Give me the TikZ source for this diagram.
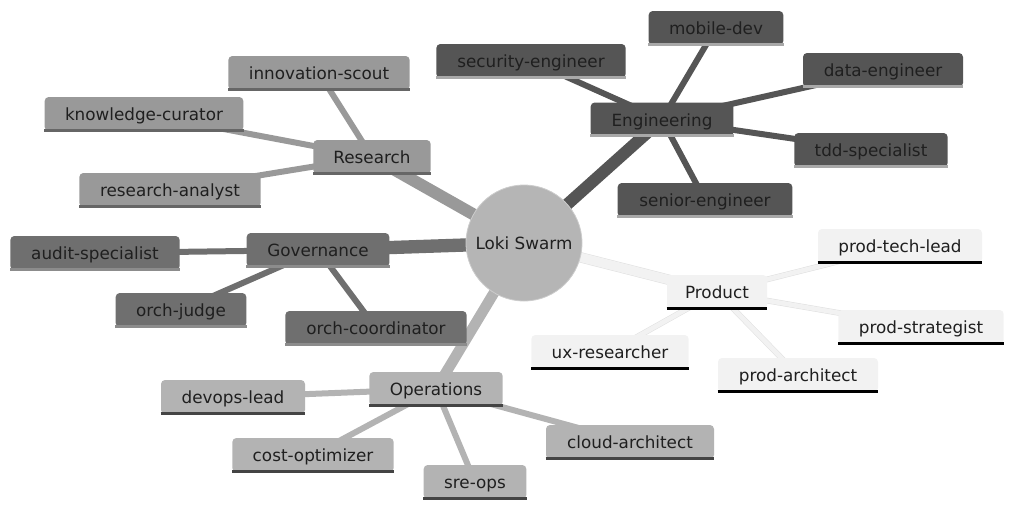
\documentclass[tikz,border=0pt]{standalone}
\usepackage{fontspec}
\setmainfont{DejaVu Sans}
\definecolor{engc}{HTML}{555555}
\definecolor{engl}{HTML}{A8A8A8}
\definecolor{resc}{HTML}{999999}
\definecolor{resl}{HTML}{666666}
\definecolor{govc}{HTML}{6F6F6F}
\definecolor{govl}{HTML}{8C8C8C}
\definecolor{opsc}{HTML}{B3B3B3}
\definecolor{opsl}{HTML}{444444}
\definecolor{proc}{HTML}{F2F2F2}
\definecolor{prol}{HTML}{000000}
\definecolor{rootc}{HTML}{B5B5B5}
\pgfdeclarelayer{bg}
\pgfsetlayers{bg,main}
\begin{document}
\begin{tikzpicture}[x=0.75pt,y=-0.75pt,
  every node/.style={font=\fontsize{12.6}{15}\selectfont, text=black!88, inner sep=0pt},
  mbox/.style={rounded corners=3pt, fill=#1, minimum height=25.5pt, text height=12pt, text depth=2pt},
  rootedge/.style={draw=#1, line width=9pt},
  childedge/.style={draw=#1, line width=4.5pt},
  prodedge/.style={draw=black!12, line width=0.4pt, double=proc, double distance=#1},
]
\useasboundingbox (0,0) rectangle (1024,515);

% ---------- nodes ----------
\node[circle, fill=rootc, draw=black!20, line width=0.6pt, minimum size=87pt] (root) at (524,243) {Loki Swarm};

\node[mbox=engc, minimum width=107pt] (eng) at (662,119.5) {Engineering};
\node[mbox=engc, minimum width=142pt] (sec) at (531,61) {security-engineer};
\node[mbox=engc, minimum width=101pt] (mob) at (716,28) {mobile-dev};
\node[mbox=engc, minimum width=120pt] (dat) at (883,70) {data-engineer};
\node[mbox=engc, minimum width=115pt] (tdd) at (871,150) {tdd-specialist};
\node[mbox=engc, minimum width=131pt] (sen) at (705,200) {senior-engineer};

\node[mbox=resc, minimum width=88pt] (res) at (372,157) {Research};
\node[mbox=resc, minimum width=136pt] (inn) at (319,73) {innovation-scout};
\node[mbox=resc, minimum width=149pt] (kno) at (144,114) {knowledge-curator};
\node[mbox=resc, minimum width=136pt] (ran) at (170,190) {research-analyst};

\node[mbox=govc, minimum width=107pt] (gov) at (318,250) {Governance};
\node[mbox=govc, minimum width=127pt] (aud) at (95,253) {audit-specialist};
\node[mbox=govc, minimum width=98pt] (jud) at (181,310) {orch-judge};
\node[mbox=govc, minimum width=136pt] (coo) at (376,328) {orch-coordinator};

\node[mbox=opsc, minimum width=100pt] (ops) at (436,389) {Operations};
\node[mbox=opsc, minimum width=108pt] (dev) at (233,397) {devops-lead};
\node[mbox=opsc, minimum width=121pt] (cos) at (313,455) {cost-optimizer};
\node[mbox=opsc, minimum width=77pt] (sre) at (475,482) {sre-ops};
\node[mbox=opsc, minimum width=126pt] (clo) at (630,442) {cloud-architect};

\node[mbox=proc, minimum width=75pt] (pro) at (717,292) {Product};
\node[mbox=proc, minimum width=123pt] (ptl) at (900,246) {prod-tech-lead};
\node[mbox=proc, minimum width=124pt] (pst) at (921,327) {prod-strategist};
\node[mbox=proc, minimum width=120pt] (par) at (798,375) {prod-architect};
\node[mbox=proc, minimum width=118pt] (uxr) at (610,352) {ux-researcher};

% ---------- edges (behind nodes) ----------
\begin{pgfonlayer}{bg}
  \draw[rootedge=engc] (root.center) -- (eng.center);
  \draw[rootedge=resc] (root.center) -- (res.center);
  \draw[rootedge=govc, line width=10pt] (root.center) -- (gov.center);
  \draw[rootedge=opsc, line width=8pt] (root.center) -- (ops.center);
  \draw[prodedge=7pt] (root.center) -- (pro.center);

  \foreach \c in {sec,mob,dat,tdd,sen} \draw[childedge=engc] (eng.center) -- (\c.center);
  \foreach \c in {inn,kno,ran} \draw[childedge=resc] (res.center) -- (\c.center);
  \foreach \c in {aud,jud,coo} \draw[childedge=govc] (gov.center) -- (\c.center);
  \foreach \c in {dev,cos,sre,clo} \draw[childedge=opsc] (ops.center) -- (\c.center);
  \foreach \c in {ptl,pst,par,uxr} \draw[prodedge=3.5pt] (pro.center) -- (\c.center);
\end{pgfonlayer}

% ---------- bottom lines ----------
\foreach \n/\l in {eng/engl,sec/engl,mob/engl,dat/engl,tdd/engl,sen/engl,
  res/resl,inn/resl,kno/resl,ran/resl,
  gov/govl,aud/govl,jud/govl,coo/govl,
  ops/opsl,dev/opsl,cos/opsl,sre/opsl,clo/opsl,
  pro/prol,ptl/prol,pst/prol,par/prol,uxr/prol}
  \draw[\l, line width=2.2pt] ([yshift=0.9pt]\n.south west) -- ([yshift=0.9pt]\n.south east);
\end{tikzpicture}
\end{document}
